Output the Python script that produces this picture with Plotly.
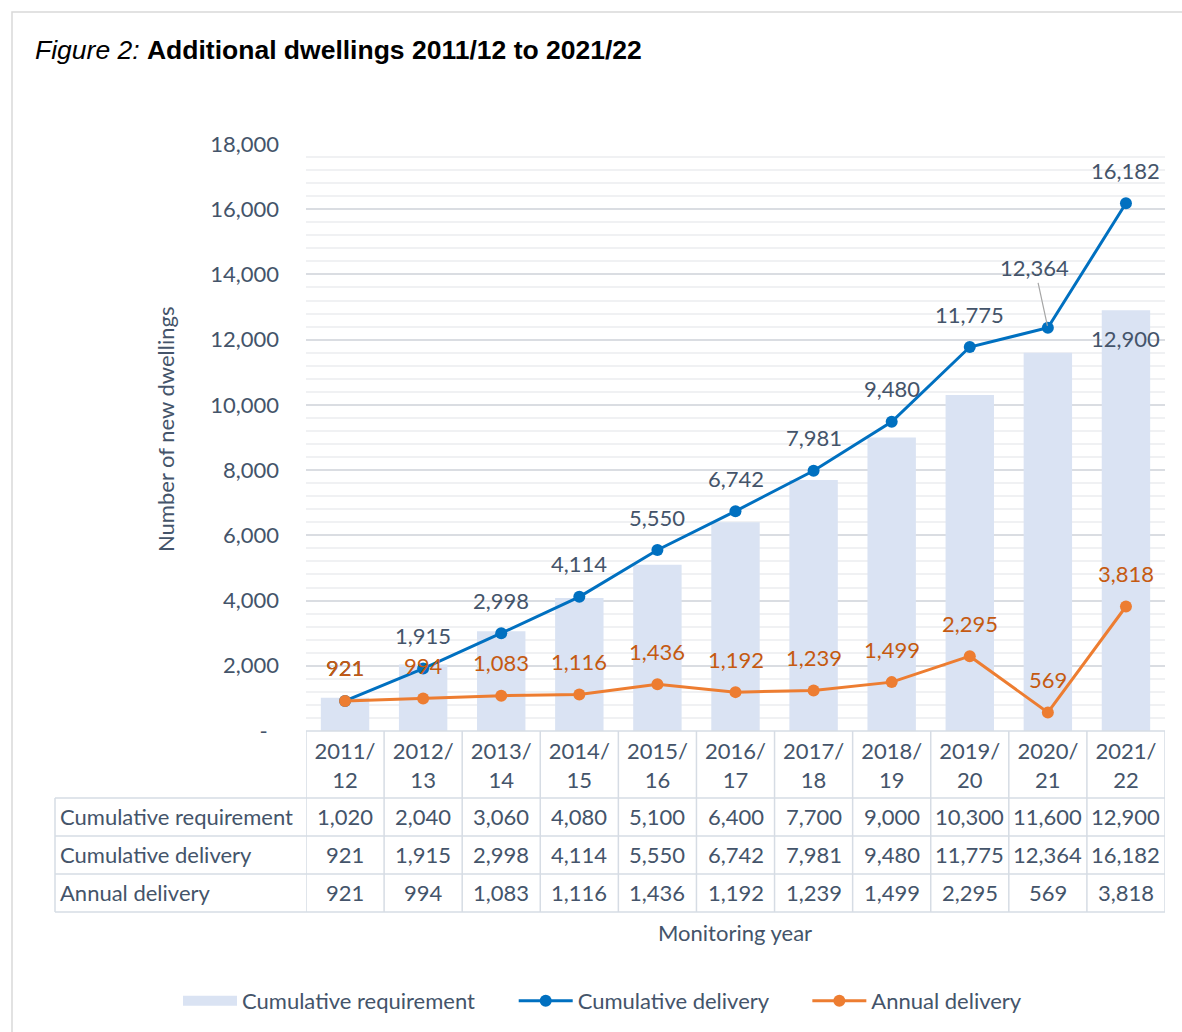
import plotly.graph_objects as go

# ---------------- data ----------------
years = ["2011/12", "2012/13", "2013/14", "2014/15", "2015/16", "2016/17",
         "2017/18", "2018/19", "2019/20", "2020/21", "2021/22"]
year_labels = ["2011/<br>12", "2012/<br>13", "2013/<br>14", "2014/<br>15", "2015/<br>16",
               "2016/<br>17", "2017/<br>18", "2018/<br>19", "2019/<br>20", "2020/<br>21",
               "2021/<br>22"]
cum_req = [1020, 2040, 3060, 4080, 5100, 6400, 7700, 9000, 10300, 11600, 12900]
cum_del = [921, 1915, 2998, 4114, 5550, 6742, 7981, 9480, 11775, 12364, 16182]
annual = [921, 994, 1083, 1116, 1436, 1192, 1239, 1499, 2295, 569, 3818]
series_names = ["Cumulative requirement", "Cumulative delivery", "Annual delivery"]
y_ticks = [0, 2000, 4000, 6000, 8000, 10000, 12000, 14000, 16000, 18000]
y_tick_labels = ["-\u00a0\u00a0", "2,000", "4,000", "6,000", "8,000", "10,000",
                 "12,000", "14,000", "16,000", "18,000"]
title_html = "<i>Figure 2:</i> <b>Additional dwellings 2011/12 to 2021/22</b>"
y_title = "Number of new dwellings"
x_title = "Monitoring year"

# ---------------- style ----------------
W, H = 1182, 1032
FONT = "Lato"
TXT = "#44546A"
BAR = "#DAE3F3"
BLUE = "#0070C0"
ORANGE = "#ED7D31"
ORANGE_TXT = "#C55A11"
BORDER = "#D6DCE4"
FS = 22
PAD = "\u00a0" * 6  # spacing after each legend entry


def px(x):
    return x / W


def py(y):
    return 1 - y / H


fig = go.Figure()
fig.add_trace(go.Bar(x=years, y=cum_req, name=series_names[0], marker_color=BAR,
                     marker_line_width=0, showlegend=False))
# legend swatch for the bars (wide rectangle, as in the reference)
fig.add_trace(go.Scatter(x=[None], y=[None], name=series_names[0] + PAD, mode="lines",
                         line=dict(color=BAR, width=16)))
fig.add_trace(go.Scatter(x=years, y=cum_del, name=series_names[1] + PAD,
                         mode="lines+markers",
                         line=dict(color=BLUE, width=3),
                         marker=dict(color=BLUE, size=12)))
fig.add_trace(go.Scatter(x=years, y=annual, name=series_names[2], mode="lines+markers",
                         line=dict(color=ORANGE, width=3),
                         marker=dict(color=ORANGE, size=12)))

ann = []
# cumulative delivery labels
for i, v in enumerate(cum_del):
    if i == 9:
        ann.append(dict(x=years[i], y=v, text=f"{v:,}", showarrow=True, arrowhead=0,
                        arrowwidth=1.2, arrowcolor="#A6A6A6", ax=-13, ay=-60,
                        standoff=2, font=dict(family=FONT, size=FS, color=TXT)))
    else:
        ann.append(dict(x=years[i], y=v, text=f"{v:,}", showarrow=False, yshift=33,
                        font=dict(family=FONT, size=FS, color=TXT)))
# annual delivery labels
for i, v in enumerate(annual):
    ann.append(dict(x=years[i], y=v, text=f"{v:,}", showarrow=False, yshift=33,
                    font=dict(family=FONT, size=FS, color=ORANGE_TXT)))
# last bar label
ann.append(dict(x=years[-1], y=cum_req[-1], text=f"{cum_req[-1]:,}", showarrow=False,
                yshift=-28, font=dict(family=FONT, size=FS, color=TXT)))

# title & axis titles
ann.append(dict(x=px(33), y=py(50), xref="paper", yref="paper", xanchor="left",
                yanchor="middle", text=title_html, showarrow=False,
                font=dict(family="Liberation Sans", size=26.5, color="#000000")))
ann.append(dict(x=px(165), y=py(430), xref="paper", yref="paper", textangle=-90,
                xanchor="center", yanchor="middle",
                text=y_title, showarrow=False,
                font=dict(family=FONT, size=FS, color=TXT)))
ann.append(dict(x=px(735), y=py(932), xref="paper", yref="paper",
                xanchor="center", yanchor="middle",
                text=x_title, showarrow=False,
                font=dict(family=FONT, size=FS, color=TXT)))

# data table
rows = [cum_req, cum_del, annual]
row_mid = [816, 854, 892]
for r, (name, vals) in enumerate(zip(series_names, rows)):
    ann.append(dict(x=px(58), y=py(row_mid[r]), xref="paper", yref="paper",
                    xanchor="left", yanchor="middle", text=name, showarrow=False,
                    font=dict(family=FONT, size=FS, color=TXT)))
    for i, v in enumerate(vals):
        ann.append(dict(x=years[i], y=py(row_mid[r]), xref="x", yref="paper",
                        xanchor="center", yanchor="middle", text=f"{v:,}",
                        showarrow=False, font=dict(family=FONT, size=FS, color=TXT)))

shapes = []
line = dict(color=BORDER, width=1.5)
shapes.append(dict(type="line", xref="paper", yref="paper", x0=px(306), x1=px(1165),
                   y0=py(731), y1=py(731), line=line))
for yy in [798, 836, 874, 912]:
    shapes.append(dict(type="line", xref="paper", yref="paper", x0=px(55), x1=px(1165),
                       y0=py(yy), y1=py(yy), line=line))
for k in range(len(years) + 1):
    shapes.append(dict(type="line", xref="x", yref="paper", x0=k - 0.5, x1=k - 0.5,
                       y0=py(731), y1=py(912), line=line))
shapes.append(dict(type="line", xref="paper", yref="paper", x0=px(55), x1=px(55),
                   y0=py(798), y1=py(912), line=line))
# outer frame
shapes.append(dict(type="rect", xref="paper", yref="paper", x0=px(12), x1=px(1195),
                   y0=py(12), y1=py(1045), line=dict(color="#D9D9D9", width=1.5),
                   layer="below"))

fig.update_layout(
    width=W, height=H,
    margin=dict(l=0, r=0, t=0, b=0, autoexpand=False),
    paper_bgcolor="white", plot_bgcolor="white",
    barmode="overlay", bargap=0.38,
    font=dict(family=FONT, size=FS, color=TXT),
    showlegend=True,
    legend=dict(orientation="h", x=px(178), xanchor="left", y=py(1001), yanchor="middle",
                font=dict(family=FONT, size=FS, color=TXT), bgcolor="rgba(0,0,0,0)",
                itemwidth=54, tracegroupgap=0),
    annotations=ann,
    shapes=shapes,
    xaxis=dict(domain=[px(306), px(1165)], range=[-0.5, 10.5], type="category",
               tickvals=years, ticktext=year_labels, showgrid=False, zeroline=False,
               showline=False, ticks="", automargin=False, ticklabelstandoff=5,
               tickfont=dict(family=FONT, size=FS, color=TXT)),
    yaxis=dict(domain=[py(731), py(144)], range=[0, 18000], tickvals=y_ticks,
               ticktext=y_tick_labels, showgrid=True, gridcolor="#DADDE2", gridwidth=1.5,
               minor=dict(dtick=400, tick0=0, showgrid=True, gridcolor="#F0F1F3",
                          gridwidth=1.5),
               zeroline=False, showline=False, ticks="", automargin=False,
               ticklabelstandoff=26, tickfont=dict(family=FONT, size=FS, color=TXT)),
)

fig.write_html("out.html", config=dict(displayModeBar=False),
               post_script="document.body.style.margin='0';document.body.style.overflow='hidden';")
